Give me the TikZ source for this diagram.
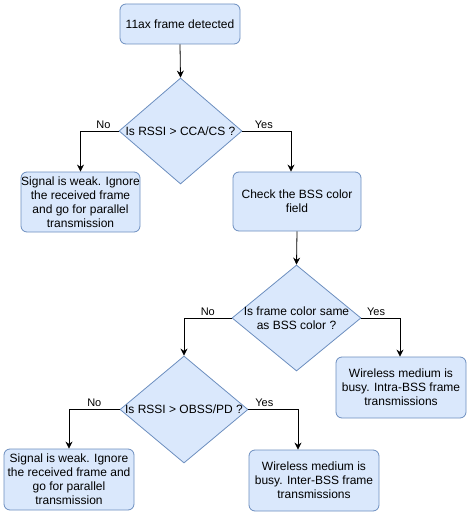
\documentclass[tikz,border=0pt]{standalone}
\usepackage{fontspec}
\setmainfont{Liberation Sans}
\usetikzlibrary{shapes.geometric,arrows.meta}
\definecolor{boxfill}{HTML}{DAE8FC}
\definecolor{boxdraw}{HTML}{6C8EBF}
\tikzset{
  procbox/.style={draw=boxdraw, fill=boxfill, rounded corners=6pt, line width=0.8pt,
    inner sep=0pt, align=center, font=\fontsize{12}{14}\selectfont},
  decision/.style={draw=boxdraw, fill=boxfill, diamond, line width=0.8pt, inner sep=0pt},
  dectext/.style={align=center, font=\fontsize{12}{14}\selectfont},
  arr/.style={draw=black, line width=0.8pt, -{Stealth[length=7pt,width=7pt]}},
  lbl/.style={font=\fontsize{11}{13}\selectfont, above, inner sep=2pt}
}
\begin{document}
\begin{tikzpicture}[x=1pt,y=-1pt]
\useasboundingbox (0,0) rectangle (472,516);
% nodes
\node[procbox, minimum width=120pt, minimum height=40pt] (start) at (180,24) {11ax frame detected};
\node[decision, minimum width=123pt, minimum height=106pt] (d1) at (180.5,131) {};
\node[dectext] (d1t) at (d1.center) {Is RSSI > CCA/CS ?};
\node[procbox, minimum width=119pt, minimum height=60pt] (weak1) at (80.5,202) {Signal is weak. Ignore\\the received frame\\and go for parallel\\transmission};
\node[procbox, minimum width=128pt, minimum height=59pt] (check) at (297,201.5) {Check the BSS color\\field};
\node[decision, minimum width=129pt, minimum height=106pt] (d2) at (296.5,318) {};
\node[dectext] (d2t) at (d2.center) {Is frame color same\\as BSS color ?};
\node[procbox, minimum width=130pt, minimum height=61pt] (intra) at (401,387.5) {Wireless medium is\\busy. Intra-BSS frame\\transmissions};
\node[decision, minimum width=128pt, minimum height=107pt] (d3) at (184,409.5) {};
\node[dectext] (d3t) at (d3.center) {Is RSSI > OBSS/PD ?};
\node[procbox, minimum width=130pt, minimum height=61pt] (weak2) at (69,479.5) {Signal is weak. Ignore\\the received frame and\\go for parallel\\transmission};
\node[procbox, minimum width=130pt, minimum height=61pt] (inter) at (314,480.5) {Wireless medium is\\busy. Inter-BSS frame\\transmissions};
% connectors
\draw[arr] (start.south) -- (d1.north);
\draw[arr] (d1.west) -| node[lbl, pos=0.2] {No} (weak1.north);
\draw[arr] (d1.east) -| node[lbl, pos=0.22] {Yes} (check.north -| 291,0);
\draw[arr] (check.south) -- (d2.north);
\draw[arr] (d2.west) -| node[lbl, pos=0.25] {No} (d3.north);
\draw[arr] (d2.east) -| node[lbl, pos=0.19] {Yes} (intra.north -| 400,0);
\draw[arr] (d3.west) -| node[lbl, pos=0.25] {No} (weak2.north);
\draw[arr] (d3.east) -| node[lbl, pos=0.16] {Yes} (inter.north -| 298,0);
\end{tikzpicture}
\end{document}
